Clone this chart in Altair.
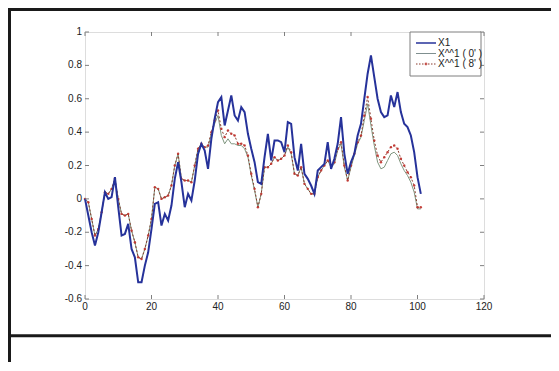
import altair as alt
import pandas as pd

# ---- data ----
x_vals = list(range(0, 102))

x1 = [0.00, -0.10, -0.20, -0.28, -0.20, -0.08, 0.04, 0.00, 0.01, 0.13,
      -0.05, -0.22, -0.21, -0.15, -0.30, -0.35, -0.50, -0.50, -0.40, -0.32,
      -0.18, -0.03, -0.02, -0.16, -0.09, -0.13, -0.04, 0.12, 0.22, 0.10,
      -0.05, 0.03, -0.01, 0.11, 0.27, 0.33, 0.29, 0.18, 0.36, 0.48,
      0.58, 0.61, 0.44, 0.53, 0.62, 0.50, 0.47, 0.55, 0.52, 0.39,
      0.30, 0.22, 0.10, 0.09, 0.25, 0.39, 0.23, 0.35, 0.35, 0.34,
      0.28, 0.46, 0.45, 0.25, 0.17, 0.33, 0.15, 0.12, 0.08, 0.03,
      0.17, 0.19, 0.21, 0.34, 0.18, 0.24, 0.33, 0.49, 0.27, 0.15,
      0.22, 0.27, 0.38, 0.45, 0.60, 0.75, 0.86, 0.73, 0.60, 0.52,
      0.49, 0.50, 0.62, 0.55, 0.64, 0.52, 0.45, 0.43, 0.38, 0.28,
      0.13, 0.03]

x_hat_0 = [0.00, -0.02, -0.12, -0.22, -0.18, -0.08, 0.04, 0.03, 0.06, 0.12,
           0.00, -0.09, -0.10, -0.09, -0.19, -0.26, -0.35, -0.36, -0.30, -0.22,
           -0.12, 0.07, 0.06, 0.00, 0.01, 0.02, 0.08, 0.20, 0.27, 0.12,
           0.11, 0.11, 0.10, 0.20, 0.30, 0.33, 0.31, 0.31, 0.39, 0.45,
           0.50, 0.38, 0.33, 0.36, 0.33, 0.33, 0.32, 0.32, 0.30, 0.25,
           0.14, 0.05, -0.05, 0.03, 0.19, 0.19, 0.21, 0.25, 0.23, 0.24,
           0.26, 0.31, 0.27, 0.15, 0.14, 0.19, 0.09, 0.06, 0.03, 0.03,
           0.13, 0.17, 0.20, 0.23, 0.19, 0.21, 0.29, 0.33, 0.19, 0.11,
           0.19, 0.26, 0.33, 0.37, 0.47, 0.57, 0.44, 0.32, 0.22, 0.18,
           0.19, 0.23, 0.27, 0.28, 0.26, 0.21, 0.17, 0.14, 0.10, 0.04,
           -0.06, -0.06]

x_hat_8 = [0.00, -0.02, -0.12, -0.22, -0.18, -0.08, 0.04, 0.03, 0.06, 0.12,
           0.00, -0.09, -0.10, -0.09, -0.19, -0.26, -0.35, -0.36, -0.30, -0.22,
           -0.12, 0.07, 0.06, 0.00, 0.01, 0.02, 0.08, 0.20, 0.27, 0.12,
           0.11, 0.11, 0.10, 0.20, 0.30, 0.33, 0.31, 0.32, 0.40, 0.47,
           0.53, 0.42, 0.37, 0.41, 0.39, 0.38, 0.33, 0.33, 0.32, 0.26,
           0.15, 0.06, -0.05, 0.03, 0.19, 0.19, 0.21, 0.25, 0.23, 0.24,
           0.26, 0.32, 0.28, 0.15, 0.14, 0.19, 0.09, 0.06, 0.03, 0.03,
           0.13, 0.17, 0.20, 0.23, 0.20, 0.22, 0.30, 0.34, 0.20, 0.11,
           0.20, 0.27, 0.34, 0.38, 0.50, 0.61, 0.48, 0.35, 0.26, 0.22,
           0.25, 0.28, 0.31, 0.32, 0.30, 0.24, 0.20, 0.16, 0.13, 0.08,
           -0.05, -0.05]

labels = ["X1", "X^^1 ( 0' )", "X^^1 ( 8' )"]
x_ticks = [0, 20, 40, 60, 80, 100, 120]
y_ticks = [-0.6, -0.4, -0.2, 0, 0.2, 0.4, 0.6, 0.8, 1]

W, H = 399, 267
PL, PT = 77, 24

df1 = pd.DataFrame({"x": x_vals, "y": x1})
df0 = pd.DataFrame({"x": x_vals, "y": x_hat_0})
df8 = pd.DataFrame({"x": x_vals, "y": x_hat_8})
xt = pd.DataFrame({"x": x_ticks, "label": [f"{v:g}" for v in x_ticks]})
yt = pd.DataFrame({"y": y_ticks, "label": [f"{v:g}" for v in y_ticks]})
one = pd.DataFrame({"k": [0]})

xs = alt.Scale(domain=[0, 120], nice=False, zero=False)
ys = alt.Scale(domain=[-0.6, 1], nice=False, zero=False)

FONT = "Liberation Sans"

X = alt.X("x:Q", scale=xs, axis=None)
Y = alt.Y("y:Q", scale=ys, axis=None)

gray_line = alt.Chart(df0).mark_line(color="#7f967f", strokeWidth=1).encode(x=X, y=Y)
red_line = alt.Chart(df8).mark_line(color="#8a3b2c", strokeWidth=1, strokeDash=[2, 2]).encode(
    x=X, y=Y)
red_pts = alt.Chart(df8).mark_point(filled=True, color="#c0302a", size=6, opacity=0.9).encode(
    x=X, y=Y)
blue_line = alt.Chart(df1).mark_line(color="#26329a", strokeWidth=2).encode(x=X, y=Y)

# inward ticks on all four sides (MATLAB box style)
tick_col = "#7f7f7f"
tb = alt.Chart(xt).mark_rule(color=tick_col, strokeWidth=1).encode(
    x=X, y=alt.value(H), y2=alt.value(H - 4))
tt = alt.Chart(xt).mark_rule(color=tick_col, strokeWidth=1).encode(
    x=X, y=alt.value(0), y2=alt.value(4))
tl = alt.Chart(yt).mark_rule(color=tick_col, strokeWidth=1).encode(
    y=Y, x=alt.value(0), x2=alt.value(4))
tr = alt.Chart(yt).mark_rule(color=tick_col, strokeWidth=1).encode(
    y=Y, x=alt.value(W), x2=alt.value(W - 4))

# tick labels
xl = alt.Chart(xt).mark_text(font=FONT, fontSize=10, color="#222", align="center",
                             baseline="middle").encode(x=X, y=alt.value(H + 8), text="label:N")
yl = alt.Chart(yt).mark_text(font=FONT, fontSize=10, color="#222", align="right",
                             baseline="middle").encode(y=Y, x=alt.value(-3), text="label:N")

# legend
LX0, LX1, LY0, LY1 = 325, 396, 0, 44
leg_box = alt.Chart(one).mark_rect(fill="white", stroke="#7f7f7f", strokeWidth=1).encode(
    x=alt.value(LX0), x2=alt.value(LX1), y=alt.value(LY0), y2=alt.value(LY1))
rows = [11, 21.5, 32]
leg_layers = [leg_box]
styles = [dict(color="#26329a", strokeWidth=1.5),
          dict(color="#7f8f8f", strokeWidth=1),
          dict(color="#8a3b2c", strokeWidth=1, strokeDash=[1.5, 1.5])]
for lab, ry, st in zip(labels, rows, styles):
    leg_layers.append(alt.Chart(one).mark_rule(**st).encode(
        x=alt.value(331), x2=alt.value(351), y=alt.value(ry)))
    leg_layers.append(alt.Chart(one).mark_text(text=lab, align="left", baseline="middle",
                                              font=FONT, fontSize=10, color="#222").encode(
        x=alt.value(353), y=alt.value(ry)))
leg_layers.append(alt.Chart(one).mark_point(filled=True, color="#c0302a", size=8).encode(
    x=alt.value(341), y=alt.value(rows[2])))

# page frame (table borders)
TOTW, TOTH = 543, 354
frame_col = "#1a1a1a"
f_top = alt.Chart(one).mark_rule(color=frame_col, strokeWidth=3).encode(
    x=alt.value(-PL), x2=alt.value(TOTW - PL), y=alt.value(-PT + 1.5))
f_left = alt.Chart(one).mark_rule(color=frame_col, strokeWidth=3).encode(
    x=alt.value(-PL + 1.5), y=alt.value(-PT), y2=alt.value(TOTH - PT))
f_mid = alt.Chart(one).mark_rule(color=frame_col, strokeWidth=3).encode(
    x=alt.value(-PL), x2=alt.value(TOTW - PL), y=alt.value(335.7 - 8 - PT))

chart = alt.layer(
    gray_line, red_line, red_pts, blue_line, tb, tt, tl, tr, xl, yl, *leg_layers,
    f_top, f_left, f_mid
).properties(
    width=W, height=H,
    autosize=alt.AutoSizeParams(type="none"),
    padding={"left": PL, "top": PT, "right": TOTW - PL - W, "bottom": TOTH - PT - H},
).configure_view(stroke="#7f7f7f", strokeWidth=1).configure(background="white")

chart.save("out.html", embed_options={"renderer": "svg", "actions": False})
